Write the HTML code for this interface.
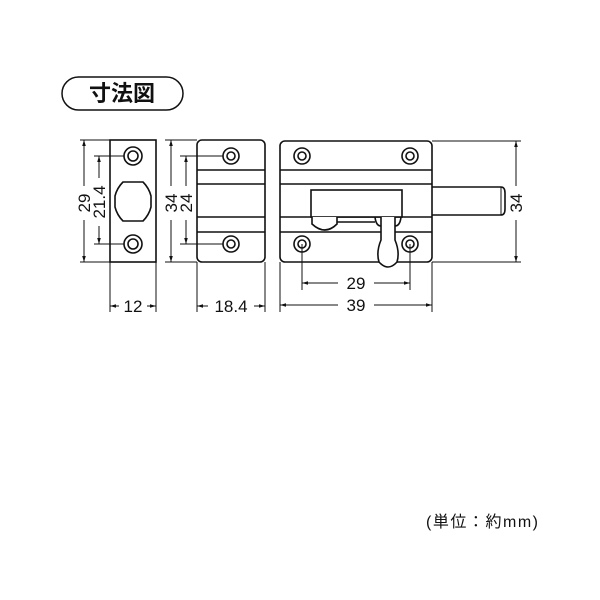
<!DOCTYPE html>
<html><head><meta charset="utf-8"><style>
body{margin:0;background:#fff;width:600px;height:600px;overflow:hidden}
svg{position:absolute;left:0;top:0}
text{font-family:"Liberation Sans","Noto Sans CJK JP",sans-serif;fill:#111}
</style></head><body>
<svg width="600" height="600" viewBox="0 0 600 600">
<defs>
<marker id="a" viewBox="0 0 10 10" refX="10" refY="5" markerWidth="6" markerHeight="6" orient="auto-start-reverse"><path d="M0,2 L10,5 L0,8 z" fill="#111"/></marker>
</defs>
<g stroke="#111" fill="none" stroke-width="1.6">
<rect x="62" y="77" width="121" height="33" rx="16.5" stroke-width="1.5"/>
<rect x="110" y="140" width="46" height="122"/>
<circle cx="133" cy="156" r="9"/><circle cx="133" cy="156" r="5"/>
<circle cx="133" cy="244" r="9"/><circle cx="133" cy="244" r="5"/>
<path d="M123,182 L143,182 Q149,188 151,196 L151,207 Q149,215 143,221 L123,221 Q117,215 115,207 L115,196 Q117,188 123,182 Z" stroke-linejoin="round"/>
<rect x="197" y="140" width="68" height="122" rx="5"/>
<line x1="197" y1="170" x2="265" y2="170"/><line x1="197" y1="184" x2="265" y2="184"/>
<line x1="197" y1="217" x2="265" y2="217"/><line x1="197" y1="232" x2="265" y2="232"/>
<circle cx="231" cy="156" r="8" fill="#fff"/><circle cx="231" cy="156" r="4"/>
<circle cx="231" cy="244" r="8" fill="#fff"/><circle cx="231" cy="244" r="4"/>
<rect x="280" y="141" width="152" height="121" rx="5"/>
<line x1="280" y1="170" x2="432" y2="170"/><line x1="280" y1="184" x2="432" y2="184"/>
<line x1="280" y1="217" x2="432" y2="217"/><line x1="280" y1="232" x2="432" y2="232"/>
<rect x="311" y="190" width="91" height="27" fill="#fff"/>
<path d="M312,217 L312,224 Q325,236 337,224 L337,217" fill="#fff"/>
<line x1="337" y1="222" x2="375" y2="222"/>
<path d="M375,217 Q376,226 381,226 M401,217 Q400,226 395,226"/>
<path d="M381,217 L381,240 Q376,252 379,262 Q388,272 397,262 Q400,252 395,240 L395,217" fill="#fff"/>
<path d="M432,187 L501,187 Q505,187 505,193 L505,209 Q505,215 501,215 L432,215"/>
<line x1="501" y1="187" x2="501" y2="215" stroke-width="1"/>
<circle cx="302" cy="156" r="8" fill="#fff"/><circle cx="302" cy="156" r="4"/>
<circle cx="410" cy="156" r="8" fill="#fff"/><circle cx="410" cy="156" r="4"/>
<circle cx="302" cy="244" r="8" fill="#fff"/><circle cx="302" cy="244" r="4"/>
<circle cx="410" cy="244" r="8" fill="#fff"/><circle cx="410" cy="244" r="4"/>
</g>
<g stroke="#111" fill="none" stroke-width="1">
<line x1="80" y1="140" x2="110" y2="140"/><line x1="80" y1="262" x2="110" y2="262"/>
<line x1="84" y1="140" x2="84" y2="262" marker-start="url(#a)" marker-end="url(#a)"/>
<line x1="94" y1="156" x2="124" y2="156"/><line x1="94" y1="244" x2="124" y2="244"/>
<line x1="99" y1="156" x2="99" y2="244" marker-start="url(#a)" marker-end="url(#a)"/>
<line x1="110" y1="262" x2="110" y2="312"/><line x1="156" y1="262" x2="156" y2="312"/>
<line x1="110" y1="306" x2="156" y2="306" marker-start="url(#a)" marker-end="url(#a)"/>
<line x1="165" y1="140" x2="197" y2="140"/><line x1="165" y1="262" x2="197" y2="262"/>
<line x1="171" y1="140" x2="171" y2="262" marker-start="url(#a)" marker-end="url(#a)"/>
<line x1="180" y1="156" x2="223" y2="156"/><line x1="180" y1="244" x2="223" y2="244"/>
<line x1="186" y1="156" x2="186" y2="244" marker-start="url(#a)" marker-end="url(#a)"/>
<line x1="197" y1="262" x2="197" y2="312"/><line x1="265" y1="262" x2="265" y2="312"/>
<line x1="197" y1="306" x2="265" y2="306" marker-start="url(#a)" marker-end="url(#a)"/>
<line x1="432" y1="141" x2="521" y2="141"/><line x1="432" y1="262" x2="521" y2="262"/>
<line x1="516" y1="141" x2="516" y2="262" marker-start="url(#a)" marker-end="url(#a)"/>
<line x1="302" y1="244" x2="302" y2="290"/><line x1="410" y1="244" x2="410" y2="290"/>
<line x1="302" y1="283" x2="410" y2="283" marker-start="url(#a)" marker-end="url(#a)"/>
<line x1="280" y1="262" x2="280" y2="312"/><line x1="432" y1="262" x2="432" y2="312"/>
<line x1="280" y1="305" x2="432" y2="305" marker-start="url(#a)" marker-end="url(#a)"/>
</g>
<g fill="#fff">
<rect x="76" y="186" width="16" height="34"/><rect x="91" y="178" width="16" height="48"/>
<rect x="163" y="186" width="16" height="34"/><rect x="178" y="186" width="16" height="34"/>
<rect x="508" y="186" width="16" height="34"/>
<rect x="119" y="297" width="28" height="18"/><rect x="208" y="297" width="46" height="18"/>
<rect x="338" y="274" width="36" height="18"/><rect x="338" y="296" width="36" height="18"/>
</g>
<text x="122" y="101" font-size="22" font-weight="bold" text-anchor="middle">寸法図</text>
<g font-size="17" text-anchor="middle">
<text transform="translate(90,203) rotate(-90)">29</text>
<text transform="translate(105,202) rotate(-90)">21.4</text>
<text transform="translate(177,203) rotate(-90)">34</text>
<text transform="translate(192,203) rotate(-90)">24</text>
<text transform="translate(522,203) rotate(-90)">34</text>
<text x="133" y="312">12</text>
<text x="231" y="312">18.4</text>
<text x="356" y="289">29</text>
<text x="356" y="311">39</text>
</g>
<text x="426" y="527" font-size="16" textLength="112">(単位：約mm)</text>
</svg>
</body></html>
